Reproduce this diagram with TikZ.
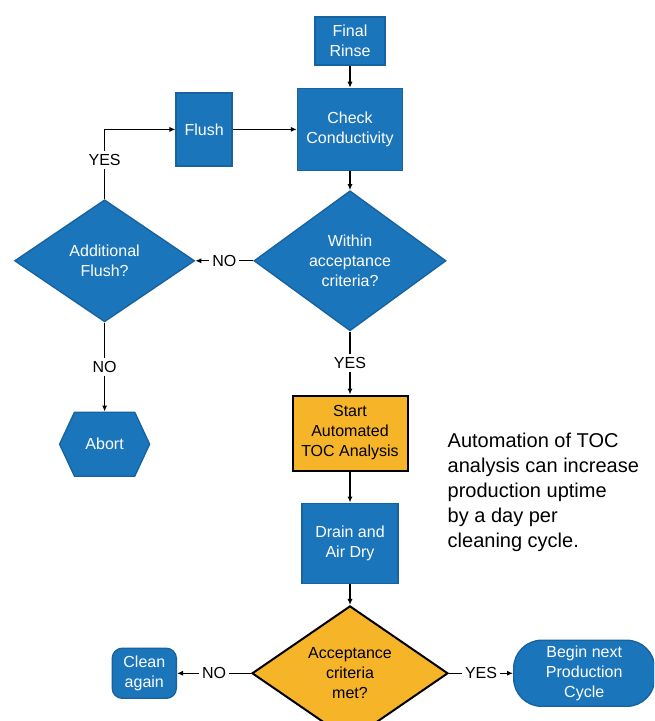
\documentclass[tikz,border=0pt]{standalone}
\usepackage{fontspec}
\setmainfont{Liberation Sans}
\usetikzlibrary{positioning, arrows.meta, shapes.geometric, shapes.symbols}
\definecolor{tocblue}{RGB}{27,117,187}
\definecolor{tocorange}{RGB}{246,181,40}
\tikzstyle{block}=[draw=tocblue!85!black,fill=tocblue,text=white,rectangle,inner sep=0pt,align=center,font=\fontsize{8}{10}\selectfont]
\tikzstyle{decision}=[block,diamond]
\tikzstyle{toc}=[draw=black,line width=1pt,fill=tocorange,text=black]
\tikzstyle{lbl}=[fill=white,inner sep=1.5pt,font=\fontsize{8}{10}\selectfont]

\begin{document}
\begin{tikzpicture}[x=0.5pt,y=-0.5pt,>={Latex[length=3pt,width=2.6pt]},line width=0.7pt]
            \useasboundingbox (0,0) rectangle (654,721);
            \clip (0,0) rectangle (654,721);
            % main column
            \node[block, minimum width=35pt, minimum height=24pt] (rinse) at (350,41) {Final\\Rinse};
            \node[block, minimum width=52.5pt, minimum height=41pt, below=11pt of rinse] (check) {Check\\Conductivity};
            \node[decision, minimum width=96pt, minimum height=70pt, below=9.5pt of check] (within) {Within\\acceptance\\criteria?};
            \node[block, toc, minimum width=57.5pt, minimum height=37.5pt, below=31.5pt of within] (start) {Start\\Automated\\TOC Analysis};
            \node[block, minimum width=48pt, minimum height=40pt, below=15.5pt of start] (drain) {Drain and\\Air Dry};
            \node[decision, toc, minimum width=98pt, minimum height=64pt, below=10.5pt of drain] (accept) {Acceptance\\criteria\\met?};
            % side branches
            \node[block, minimum width=28pt, minimum height=36.5pt, left=32pt of check] (flush) {Flush};
            \node[decision, minimum width=90pt, minimum height=61pt, left=29pt of within] (addflush) {Additional\\Flush?};
            \node[block, signal, signal to=west and east, signal pointer angle=130, minimum width=45pt, minimum height=32pt, below=44.5pt of addflush] (abort) {Abort};
            \node[block, rounded corners=5pt, minimum width=32pt, minimum height=25pt, left=37pt of accept] (clean) {Clean\\again};
            \node[block, rounded corners=14pt, minimum width=70.5pt, minimum height=33pt, right=32pt of accept] (begin) {Begin next\\Production\\Cycle};
            \node[anchor=north west, inner sep=0pt, align=left, font=\fontsize{10}{12.5}\selectfont] (note) at (447,432) {Automation of TOC\\analysis can increase\\production uptime\\by a day per\\cleaning cycle.};
            % connectors
            \draw[->] (rinse) -- (check);
            \draw[->] (check) -- (within);
            \draw[->] (flush) -- (check);
            \draw[->] (addflush.north) |- node[lbl, pos=0.28] {YES} (flush.west);
            \draw[->] (within.west) -- node[lbl] {NO} (addflush.east);
            \draw[->] (addflush.south) -- node[lbl] {NO} (abort.north);
            \draw[->] (within.south) -- node[lbl] {YES} (start.north);
            \draw[->] (start) -- (drain);
            \draw[->] (drain) -- (accept);
            \draw[->] (accept.west) -- node[lbl] {NO} (clean.east);
            \draw[->] (accept.east) -- node[lbl] {YES} (begin.west);
        \end{tikzpicture}
\end{document}
